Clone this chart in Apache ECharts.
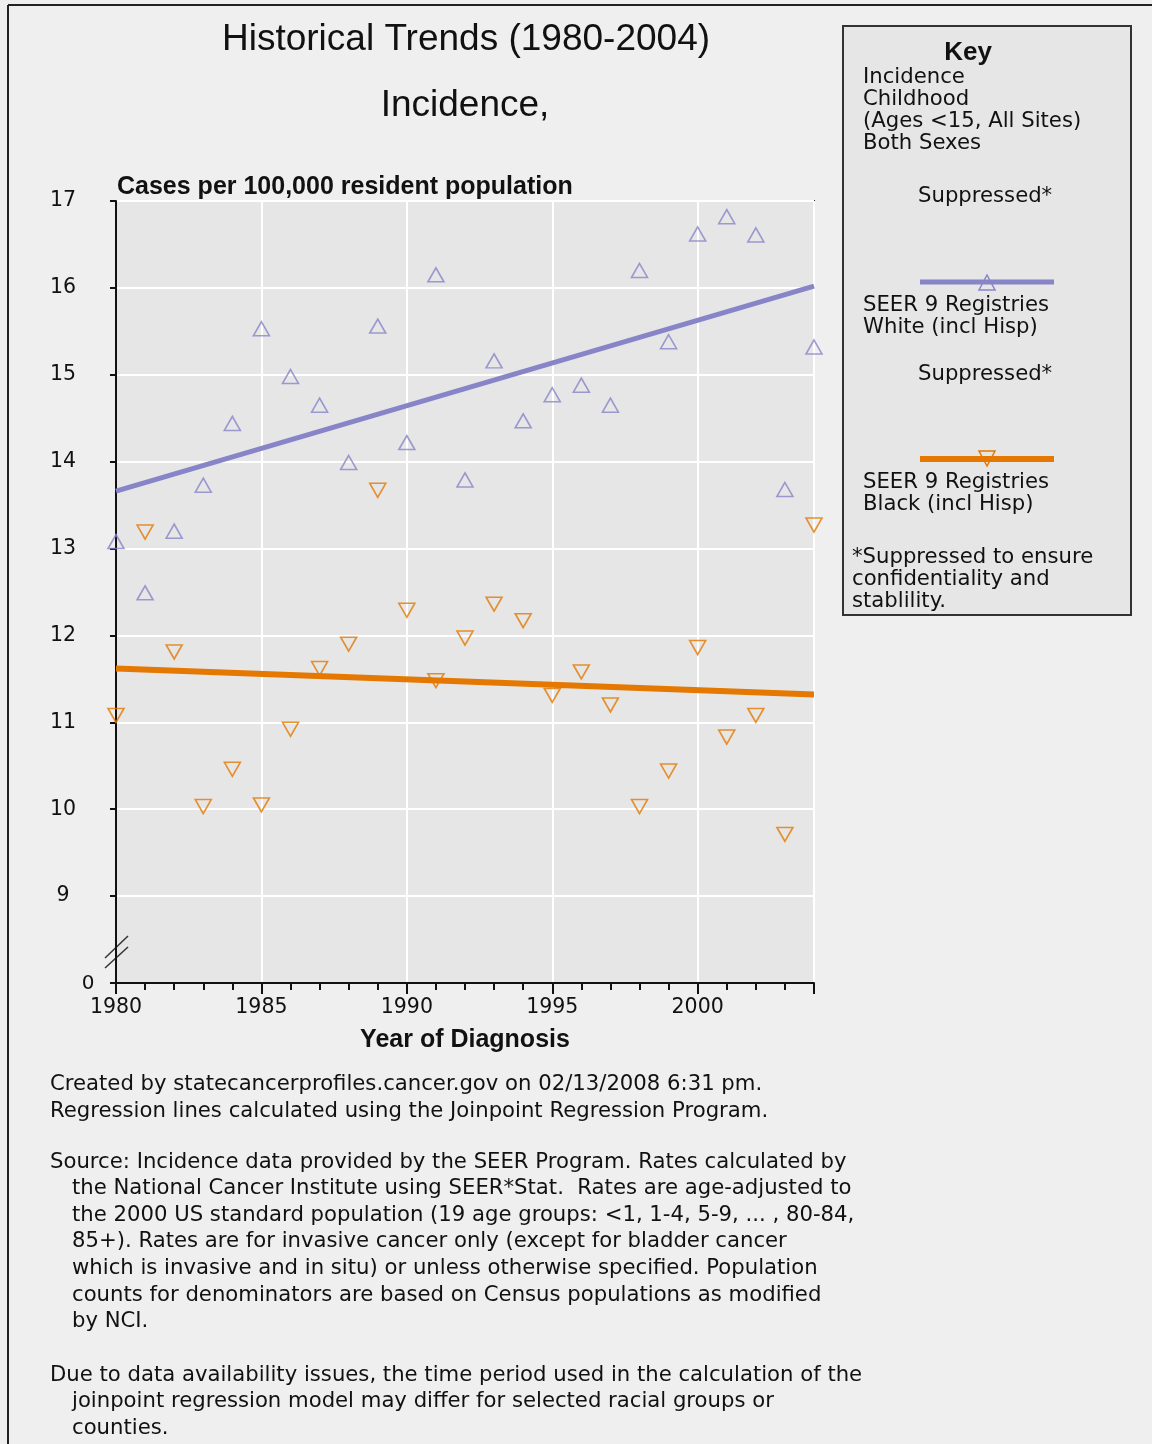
<!DOCTYPE html>
<html>
<head>
<meta charset="utf-8">
<title>Historical Trends (1980-2004)</title>
<script src="https://cdn.jsdelivr.net/npm/echarts@6/dist/echarts.min.js"></script>
<style>
  html, body { margin: 0; padding: 0; background: #efefef; }
  #chart { width: 1152px; height: 1444px; }
</style>
</head>
<body>
<div id="chart"></div>
<script>
// data
var years = [1980, 1981, 1982, 1983, 1984, 1985, 1986, 1987, 1988, 1989, 1990, 1991,
  1992, 1993, 1994, 1995, 1996, 1997, 1998, 1999, 2000, 2001, 2002, 2003, 2004]
var whiteRates = [13.08, 12.49, 13.20, 13.73, 14.44, 15.53, 14.98, 14.65, 13.99, 15.56, 14.22, 16.15,
  13.79, 15.16, 14.47, 14.77, 14.88, 14.65, 16.20, 15.38, 16.62, 16.82, 16.61, 13.68, 15.32]
var blackRates = [11.08, 13.19, 11.81, 10.03, 10.46, 10.05, 10.92, 11.62, 11.90, 13.67, 12.29, 11.48,
  11.97, 12.36, 12.17, 11.31, 11.58, 11.20, 10.03, 10.44, 11.86, 10.83, 11.08, 9.71, 13.27]
var trendYears = [1980, 2004]
var whiteTrend = [13.66, 16.02]
var blackTrend = [11.62, 11.32]

var footLines = [
  'Created by statecancerprofiles.cancer.gov on 02/13/2008 6:31 pm.',
  'Regression lines calculated using the Joinpoint Regression Program.'
]
var sourceLines = [
  'Source: Incidence data provided by the SEER Program. Rates calculated by',
  'the National Cancer Institute using SEER*Stat.  Rates are age-adjusted to',
  'the 2000 US standard population (19 age groups: <1, 1-4, 5-9, ... , 80-84,',
  '85+). Rates are for invasive cancer only (except for bladder cancer',
  'which is invasive and in situ) or unless otherwise specified. Population',
  'counts for denominators are based on Census populations as modified',
  'by NCI.'
]
var dueLines = [
  'Due to data availability issues, the time period used in the calculation of the',
  'joinpoint regression model may differ for selected racial groups or',
  'counties.'
]

var WHITE = '#8884c8'
var BLACK = '#e47800'
var BODY = '"DejaVu Sans", Verdana, sans-serif'
var HEAD = '"Liberation Sans", Arial, sans-serif'
var SMALL = '21.2px ' + BODY

function zip(xs, ys) {
  return xs.map(function(x, i) { return [x, ys[i]] })
}

function txt(str, x, y, font, align) {
  return {
    type: 'text',
    silent: true,
    style: { text: str, x: x, y: y, font: font, fill: '#111', align: align || 'left', verticalAlign: 'middle' }
  }
}

var graphics = [
  // page frame
  { type: 'line', shape: { x1: 8, y1: 5, x2: 8, y2: 1444 }, style: { stroke: '#222', lineWidth: 2 } },
  { type: 'line', shape: { x1: 8, y1: 5, x2: 1152, y2: 5 }, style: { stroke: '#222', lineWidth: 2 } },
  txt('Historical Trends (1980-2004)', 466, 40, '37px ' + HEAD, 'center'),
  txt('Incidence,', 465, 106, '37px ' + HEAD, 'center'),
  txt('Cases per 100,000 resident population', 117, 187, 'bold 25px ' + HEAD),
  txt('Year of Diagnosis', 465, 1040, 'bold 25px ' + HEAD, 'center'),
  txt('0', 88, 984, '20px ' + BODY, 'center'),
  // axis break marks
  { type: 'line', shape: { x1: 105, y1: 958, x2: 128, y2: 936 }, style: { stroke: '#333', lineWidth: 1.5 } },
  { type: 'line', shape: { x1: 105, y1: 968, x2: 128, y2: 947 }, style: { stroke: '#333', lineWidth: 1.5 } },
  // key box
  { type: 'rect', shape: { x: 843, y: 26, width: 288, height: 589 }, style: { fill: '#e6e6e6', stroke: '#333', lineWidth: 2 } },
  txt('Key', 968, 53, 'bold 26px ' + HEAD, 'center'),
  txt('Incidence', 863, 77, SMALL),
  txt('Childhood', 863, 99, SMALL),
  txt('(Ages <15, All Sites)', 863, 121, SMALL),
  txt('Both Sexes', 863, 143, SMALL),
  txt('Suppressed*', 918, 196, SMALL),
  { type: 'line', shape: { x1: 920, y1: 282, x2: 1054, y2: 282 }, style: { stroke: WHITE, lineWidth: 5 } },
  { type: 'polygon', shape: { points: [[987, 275], [979, 290], [995, 290]] }, style: { fill: 'none', stroke: WHITE, lineWidth: 1.5 } },
  txt('SEER 9 Registries', 863, 305, SMALL),
  txt('White (incl Hisp)', 863, 327, SMALL),
  txt('Suppressed*', 918, 374, SMALL),
  { type: 'line', shape: { x1: 920, y1: 459, x2: 1054, y2: 459 }, style: { stroke: BLACK, lineWidth: 6 } },
  { type: 'polygon', shape: { points: [[979, 451], [995, 451], [987, 466]] }, style: { fill: 'none', stroke: BLACK, lineWidth: 1.5 } },
  txt('SEER 9 Registries', 863, 482, SMALL),
  txt('Black (incl Hisp)', 863, 504, SMALL),
  txt('*Suppressed to ensure', 852, 557, SMALL),
  txt('confidentiality and', 852, 579, SMALL),
  txt('stablility.', 852, 601, SMALL)
]

footLines.forEach(function(s, i) {
  graphics.push(txt(s, 50, 1084 + i * 27, SMALL))
})
sourceLines.forEach(function(s, i) {
  graphics.push(txt(s, i === 0 ? 50 : 72, 1162 + i * 26.6, SMALL))
})
dueLines.forEach(function(s, i) {
  graphics.push(txt(s, i === 0 ? 50 : 72, 1375 + i * 26.5, SMALL))
})

var chart = echarts.init(document.getElementById('chart'))
chart.setOption({
  animation: false,
  backgroundColor: '#efefef',
  textStyle: { fontFamily: BODY },
  grid: {
    left: 116,
    top: 201,
    right: 338,
    bottom: 461,
    show: true,
    backgroundColor: '#e6e6e6',
    borderColor: '#222',
    borderWidth: 2
  },
  xAxis: {
    type: 'value',
    min: 1980,
    max: 2004,
    interval: 5,
    axisLine: { lineStyle: { color: '#111', width: 2 } },
    axisTick: { length: 11, lineStyle: { color: '#111', width: 2 } },
    minorTick: { show: true, splitNumber: 5, length: 7, lineStyle: { color: '#111', width: 2 } },
    axisLabel: {
      color: '#111',
      fontSize: 20.5,
      margin: 14,
      showMaxLabel: false,
      formatter: function(v) { return v === 2004 ? '' : String(v) }
    },
    splitLine: { show: true, lineStyle: { color: '#fff', width: 2 } }
  },
  yAxis: {
    type: 'value',
    min: 8,
    max: 17,
    interval: 1,
    axisLine: { show: true, lineStyle: { color: '#111', width: 2 } },
    axisTick: { show: true, length: 6, lineStyle: { color: '#111', width: 2 } },
    axisLabel: {
      color: '#111',
      fontSize: 20.5,
      margin: 53,
      align: 'center',
      formatter: function(v) { return v === 8 ? '' : String(v) }
    },
    splitLine: { show: true, lineStyle: { color: '#fff', width: 2 } }
  },
  series: [
    {
      name: 'White trend',
      type: 'line',
      data: zip(trendYears, whiteTrend),
      showSymbol: false,
      lineStyle: { color: WHITE, width: 5 },
      z: 2
    },
    {
      name: 'Black trend',
      type: 'line',
      data: zip(trendYears, blackTrend),
      showSymbol: false,
      lineStyle: { color: BLACK, width: 6 },
      z: 2
    },
    {
      name: 'SEER 9 Registries White (incl Hisp)',
      type: 'scatter',
      data: zip(years, whiteRates),
      symbol: 'triangle',
      symbolSize: [16, 14],
      itemStyle: { color: 'rgba(0,0,0,0)', borderColor: WHITE, borderWidth: 1.6 },
      z: 3
    },
    {
      name: 'SEER 9 Registries Black (incl Hisp)',
      type: 'scatter',
      data: zip(years, blackRates),
      symbol: 'triangle',
      symbolRotate: 180,
      symbolSize: [16, 14],
      itemStyle: { color: 'rgba(0,0,0,0)', borderColor: BLACK, borderWidth: 1.6 },
      z: 3
    }
  ],
  graphic: graphics
})
</script>
</body>
</html>
